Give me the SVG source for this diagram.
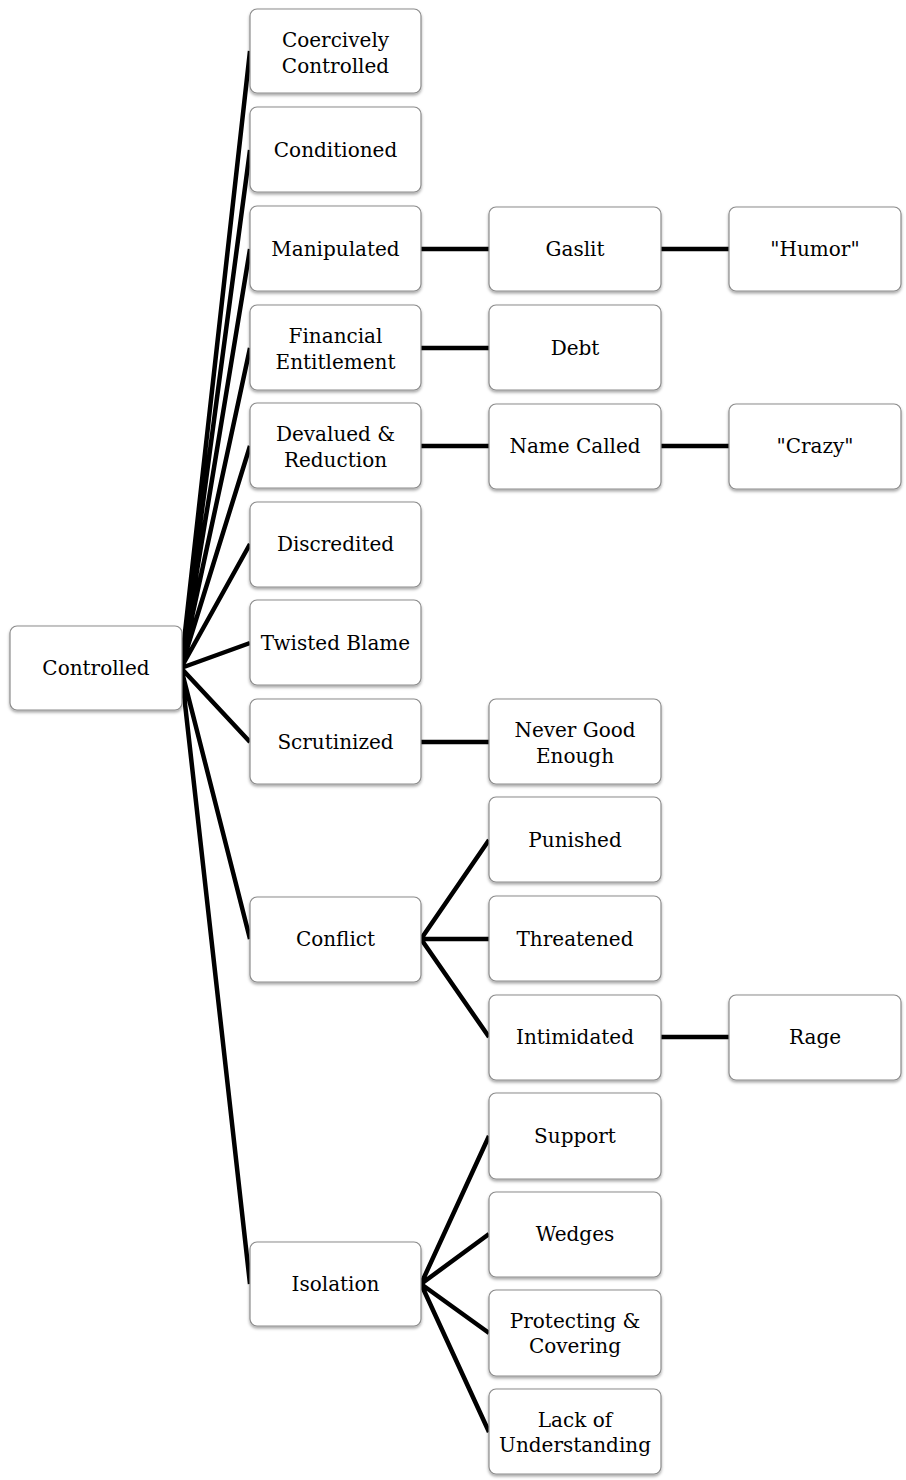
<svg xmlns="http://www.w3.org/2000/svg" width="906" height="1480" viewBox="0 0 906 1480">
<defs>
<filter id="sh" x="-10%" y="-10%" width="120%" height="130%">
<feDropShadow dx="0" dy="2" stdDeviation="1.5" flood-color="#000" flood-opacity="0.35"/>
</filter>
<style>
.b{fill:#fff;stroke:#8c8c8c;stroke-width:1.2;filter:url(#sh)}
.t{font-family:"DejaVu Serif","Liberation Serif",serif;font-size:20px;fill:#000;text-anchor:middle}
.c{stroke:#000;stroke-width:4.5;fill:none;stroke-linecap:butt}
</style>
</defs>
<rect width="906" height="1480" fill="#fff"/>
<g id="connectors" class="c">
<path d="M181 668L250 51M181 668L250 150M181 668L250 249M181 668L250 348M181 668L250 446M181 668L250 544M181 668L250 643M181 668L250 742M181 668L250 939M181 668L250 1284"/>
<path d="M421 249H489M661 249H729M421 348H489M421 446H489M661 446H729M421 742H489M661 1037H729"/>
<path d="M421 939L489 840M421 939L489 939M421 939L489 1037"/>
<path d="M421 1284L489 1136M421 1284L489 1234M421 1284L489 1333M421 1284L489 1432"/>
</g>
<g id="n-controlled"><rect class="b" x="10" y="626" width="172" height="84" rx="7"/><text class="t" x="96" y="675">Controlled</text></g>
<g id="n-coercively"><rect class="b" x="250" y="9" width="171" height="84" rx="7"/><text class="t" x="335.5" y="47">Coercively</text><text class="t" x="335.5" y="73">Controlled</text></g>
<g id="n-conditioned"><rect class="b" x="250" y="107" width="171" height="85" rx="7"/><text class="t" x="335.5" y="157">Conditioned</text></g>
<g id="n-manipulated"><rect class="b" x="250" y="206" width="171" height="85" rx="7"/><text class="t" x="335.5" y="256">Manipulated</text></g>
<g id="n-financial"><rect class="b" x="250" y="305" width="171" height="85" rx="7"/><text class="t" x="335.5" y="343">Financial</text><text class="t" x="335.5" y="369">Entitlement</text></g>
<g id="n-devalued"><rect class="b" x="250" y="403" width="171" height="85" rx="7"/><text class="t" x="335.5" y="441">Devalued &amp;</text><text class="t" x="335.5" y="467">Reduction</text></g>
<g id="n-discredited"><rect class="b" x="250" y="502" width="171" height="85" rx="7"/><text class="t" x="335.5" y="551">Discredited</text></g>
<g id="n-twisted"><rect class="b" x="250" y="600" width="171" height="85" rx="7"/><text class="t" x="335.5" y="650">Twisted Blame</text></g>
<g id="n-scrutinized"><rect class="b" x="250" y="699" width="171" height="85" rx="7"/><text class="t" x="335.5" y="749">Scrutinized</text></g>
<g id="n-conflict"><rect class="b" x="250" y="897" width="171" height="85" rx="7"/><text class="t" x="335.5" y="946">Conflict</text></g>
<g id="n-isolation"><rect class="b" x="250" y="1242" width="171" height="84" rx="7"/><text class="t" x="335.5" y="1291">Isolation</text></g>
<g id="n-gaslit"><rect class="b" x="489" y="207" width="172" height="84" rx="7"/><text class="t" x="575" y="256">Gaslit</text></g>
<g id="n-debt"><rect class="b" x="489" y="305" width="172" height="85" rx="7"/><text class="t" x="575" y="355">Debt</text></g>
<g id="n-namecalled"><rect class="b" x="489" y="404" width="172" height="85" rx="7"/><text class="t" x="575" y="453">Name Called</text></g>
<g id="n-nevergood"><rect class="b" x="489" y="699" width="172" height="85" rx="7"/><text class="t" x="575" y="737">Never Good</text><text class="t" x="575" y="763">Enough</text></g>
<g id="n-punished"><rect class="b" x="489" y="797" width="172" height="85" rx="7"/><text class="t" x="575" y="847">Punished</text></g>
<g id="n-threatened"><rect class="b" x="489" y="896" width="172" height="85" rx="7"/><text class="t" x="575" y="946">Threatened</text></g>
<g id="n-intimidated"><rect class="b" x="489" y="995" width="172" height="85" rx="7"/><text class="t" x="575" y="1044">Intimidated</text></g>
<g id="n-support"><rect class="b" x="489" y="1093" width="172" height="86" rx="7"/><text class="t" x="575" y="1143">Support</text></g>
<g id="n-wedges"><rect class="b" x="489" y="1192" width="172" height="85" rx="7"/><text class="t" x="575" y="1241">Wedges</text></g>
<g id="n-protecting"><rect class="b" x="489" y="1290" width="172" height="86" rx="7"/><text class="t" x="575" y="1328">Protecting &amp;</text><text class="t" x="575" y="1353">Covering</text></g>
<g id="n-lack"><rect class="b" x="489" y="1389" width="172" height="85" rx="7"/><text class="t" x="575" y="1427">Lack of</text><text class="t" x="575" y="1452">Understanding</text></g>
<g id="n-humor"><rect class="b" x="729" y="207" width="172" height="84" rx="7"/><text class="t" x="815" y="256">"Humor"</text></g>
<g id="n-crazy"><rect class="b" x="729" y="404" width="172" height="85" rx="7"/><text class="t" x="815" y="453">"Crazy"</text></g>
<g id="n-rage"><rect class="b" x="729" y="995" width="172" height="85" rx="7"/><text class="t" x="815" y="1044">Rage</text></g>
</svg>
